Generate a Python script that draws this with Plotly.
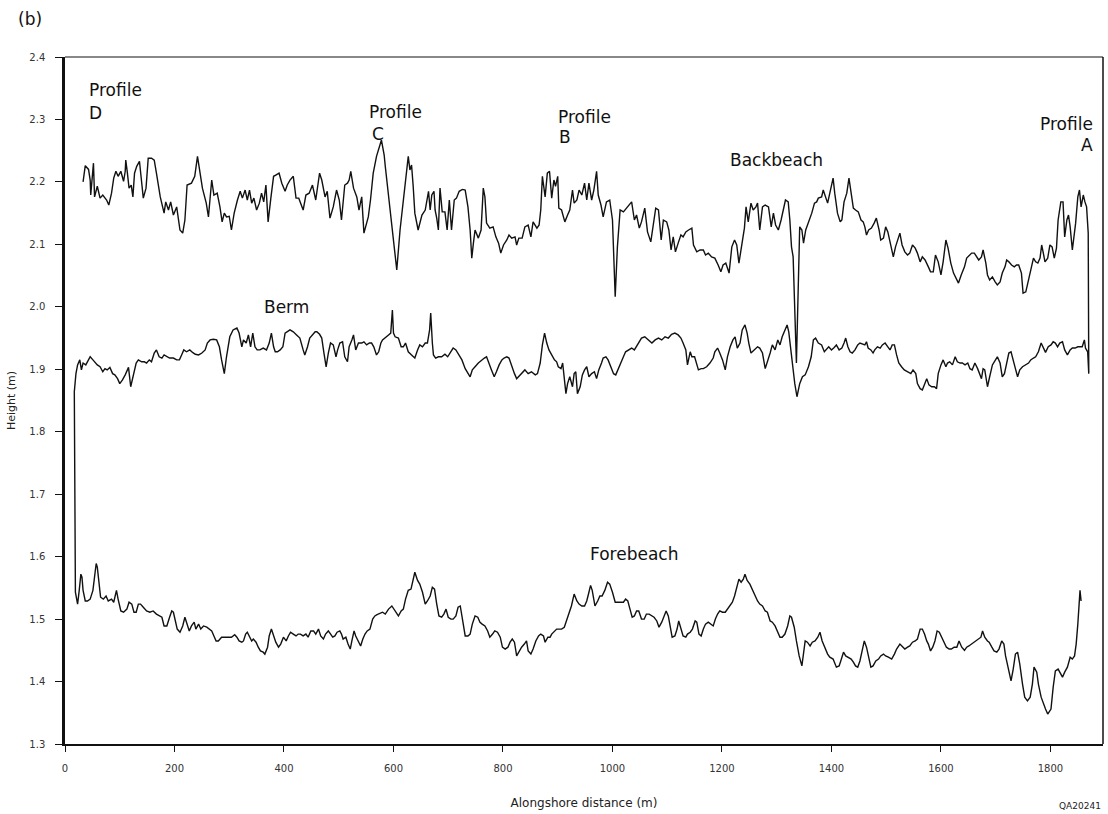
import plotly.graph_objects as go

# Surveyed beach elevations along the shore: (alongshore distance in m, height in m)
BACKBEACH = [
    (33, 2.200), (37, 2.226), (43, 2.220), (46, 2.203), (47, 2.179), (52, 2.230), (54, 2.176), (59, 2.193),
    (64, 2.174), (69, 2.179), (76, 2.171), (80, 2.163), (85, 2.182), (89, 2.206), (93, 2.217), (97, 2.209),
    (102, 2.217), (107, 2.201), (110, 2.217), (111, 2.235), (114, 2.214), (117, 2.190), (121, 2.195), (124, 2.176),
    (127, 2.214), (131, 2.225), (136, 2.233), (139, 2.203), (143, 2.174), (148, 2.190), (152, 2.238), (158, 2.238),
    (163, 2.235), (167, 2.214), (174, 2.176), (181, 2.150), (184, 2.168), (189, 2.155), (193, 2.168), (198, 2.147),
    (204, 2.160), (210, 2.123), (215, 2.118), (219, 2.139), (223, 2.195), (231, 2.198), (237, 2.209), (242, 2.241),
    (247, 2.209), (251, 2.190), (258, 2.166), (262, 2.144), (268, 2.203), (272, 2.179), (278, 2.182), (283, 2.160),
    (287, 2.136), (291, 2.150), (295, 2.144), (300, 2.145), (304, 2.123), (309, 2.150), (315, 2.171), (320, 2.185),
    (324, 2.174), (329, 2.187), (333, 2.171), (337, 2.187), (341, 2.166), (345, 2.174), (350, 2.155), (355, 2.166),
    (359, 2.182), (363, 2.168), (367, 2.195), (371, 2.136), (376, 2.174), (381, 2.209), (385, 2.211), (391, 2.214),
    (396, 2.198), (402, 2.185), (406, 2.195), (411, 2.203), (417, 2.209), (422, 2.174), (427, 2.174), (435, 2.155),
    (440, 2.179), (446, 2.182), (452, 2.195), (458, 2.171), (465, 2.214), (469, 2.203), (475, 2.176), (479, 2.185),
    (484, 2.142), (490, 2.160), (496, 2.187), (501, 2.171), (505, 2.139), (511, 2.195), (516, 2.198), (519, 2.203),
    (522, 2.217), (527, 2.190), (533, 2.176), (537, 2.155), (542, 2.176), (546, 2.118), (554, 2.144), (558, 2.171),
    (563, 2.214), (569, 2.241), (578, 2.267), (583, 2.243),
    (585, 2.225), (606, 2.059), (612, 2.123), (618, 2.171), (624, 2.211), (627, 2.241), (630, 2.219), (633, 2.227),
    (636, 2.193), (639, 2.150), (645, 2.123), (652, 2.147), (658, 2.155), (664, 2.185), (667, 2.155), (670, 2.179),
    (674, 2.185), (676, 2.155), (679, 2.142), (682, 2.123), (685, 2.190), (689, 2.152), (694, 2.152), (698, 2.123),
    (702, 2.171), (706, 2.123), (711, 2.171), (715, 2.174), (720, 2.185), (726, 2.188), (731, 2.187), (736, 2.160),
    (740, 2.123), (743, 2.078), (746, 2.102), (749, 2.123), (755, 2.110), (760, 2.123), (764, 2.190), (767, 2.176),
    (770, 2.134), (776, 2.126), (782, 2.128), (787, 2.112), (792, 2.102), (796, 2.086), (801, 2.099), (807, 2.107),
    (811, 2.115), (816, 2.110), (822, 2.112), (825, 2.099), (829, 2.110), (835, 2.110), (840, 2.128), (846, 2.131),
    (851, 2.112), (855, 2.136), (862, 2.126), (866, 2.131), (869, 2.155), (872, 2.209), (877, 2.176), (881, 2.214),
    (885, 2.217), (889, 2.174), (893, 2.203), (896, 2.193), (900, 2.209), (902, 2.158), (907, 2.155), (913, 2.136),
    (918, 2.147), (922, 2.155), (927, 2.187), (930, 2.166), (935, 2.171), (939, 2.187), (944, 2.179), (949, 2.198),
    (953, 2.171), (957, 2.198), (962, 2.171), (966, 2.187), (971, 2.217), (974, 2.179), (979, 2.163), (983, 2.144),
    (989, 2.168), (995, 2.171), (1000, 2.139), (1005, 2.016), (1009, 2.096), (1014, 2.155), (1020, 2.152), (1026, 2.158),
    (1035, 2.168), (1040, 2.139), (1044, 2.147), (1049, 2.126), (1053, 2.136), (1059, 2.158), (1064, 2.120), (1070, 2.104),
    (1075, 2.136), (1079, 2.158), (1084, 2.155), (1089, 2.107), (1093, 2.139), (1099, 2.136), (1103, 2.123), (1107, 2.091),
    (1111, 2.112), (1115, 2.088), (1120, 2.102), (1125, 2.115), (1129, 2.112), (1134, 2.120), (1139, 2.123), (1145, 2.126),
    (1148, 2.099), (1154, 2.088), (1160, 2.091), (1166, 2.091), (1170, 2.083), (1175, 2.086), (1181, 2.080), (1187, 2.078),
    (1193, 2.067), (1198, 2.056), (1202, 2.067), (1207, 2.070), (1213, 2.054), (1218, 2.096), (1223, 2.107), (1227, 2.099),
    (1231, 2.070), (1236, 2.102), (1241, 2.126), (1244, 2.160), (1248, 2.136), (1253, 2.166), (1257, 2.155), (1262, 2.160),
    (1265, 2.166), (1269, 2.123), (1274, 2.160),
    (1279, 2.163), (1285, 2.160), (1290, 2.128), (1294, 2.150), (1298, 2.131), (1303, 2.123), (1308, 2.139), (1312, 2.155),
    (1316, 2.171), (1321, 2.168), (1324, 2.139), (1327, 2.096), (1330, 2.080), (1336, 1.910), (1342, 2.128), (1346, 2.123),
    (1349, 2.102), (1353, 2.123), (1358, 2.134), (1364, 2.150), (1369, 2.166), (1373, 2.168), (1376, 2.174), (1382, 2.176),
    (1385, 2.187), (1388, 2.179), (1393, 2.166), (1397, 2.182), (1400, 2.193), (1403, 2.206), (1406, 2.182), (1411, 2.150),
    (1416, 2.136), (1419, 2.139), (1423, 2.168), (1428, 2.182), (1432, 2.206), (1436, 2.182), (1440, 2.158), (1444, 2.155),
    (1449, 2.152), (1454, 2.139), (1458, 2.136), (1461, 2.128), (1464, 2.115), (1468, 2.123), (1473, 2.126), (1478, 2.134),
    (1482, 2.142), (1487, 2.123), (1490, 2.107), (1495, 2.110), (1499, 2.128), (1503, 2.120), (1507, 2.102), (1513, 2.080),
    (1517, 2.096), (1522, 2.112), (1525, 2.118), (1529, 2.099), (1534, 2.088), (1539, 2.083), (1543, 2.086), (1548, 2.099),
    (1553, 2.094), (1557, 2.086), (1562, 2.072), (1566, 2.080), (1571, 2.075), (1577, 2.064), (1581, 2.056), (1586, 2.056),
    (1590, 2.083), (1595, 2.072), (1600, 2.051), (1604, 2.072), (1609, 2.107), (1613, 2.094), (1618, 2.070), (1623, 2.054),
    (1627, 2.046), (1632, 2.038), (1637, 2.051), (1643, 2.064), (1647, 2.078), (1652, 2.083), (1656, 2.086), (1661, 2.086),
    (1665, 2.080), (1669, 2.075), (1674, 2.080), (1677, 2.091), (1682, 2.070), (1685, 2.051), (1689, 2.043), (1694, 2.048),
    (1699, 2.040), (1703, 2.035), (1708, 2.040), (1712, 2.054), (1717, 2.064), (1720, 2.075), (1724, 2.072), (1729, 2.067),
    (1734, 2.064), (1738, 2.067), (1742, 2.067), (1747, 2.054), (1750, 2.022), (1755, 2.024), (1760, 2.043), (1764, 2.059),
    (1769, 2.078), (1773, 2.072), (1777, 2.070), (1781, 2.078), (1784, 2.099), (1787, 2.086), (1790, 2.072), (1795, 2.078),
    (1799, 2.099), (1803, 2.096), (1807, 2.078), (1811, 2.094), (1814, 2.139), (1819, 2.168), (1823, 2.168), (1826, 2.112),
    (1830, 2.139), (1833, 2.147), (1836, 2.128), (1840, 2.091), (1844, 2.118), (1846, 2.134), (1850, 2.176), (1853, 2.187),
    (1856, 2.160), (1860, 2.179), (1863, 2.168), (1866, 2.160), (1869, 2.118),
]

BERM = [
    (17, 1.864), (20, 1.893), (23, 1.907), (27, 1.915), (30, 1.899), (33, 1.910), (38, 1.907), (43, 1.915),
    (46, 1.920), (51, 1.915), (55, 1.912), (59, 1.907), (64, 1.904), (69, 1.896), (73, 1.901), (77, 1.899),
    (82, 1.903), (87, 1.893), (91, 1.891), (96, 1.885), (100, 1.877), (105, 1.883), (110, 1.891), (113, 1.896),
    (116, 1.903), (120, 1.872), (125, 1.888), (130, 1.910), (134, 1.915), (140, 1.912), (145, 1.912), (149, 1.910),
    (154, 1.915), (158, 1.912), (163, 1.926), (167, 1.931), (172, 1.920), (177, 1.918), (181, 1.923), (186, 1.920),
    (191, 1.918), (198, 1.918), (204, 1.915), (209, 1.915), (213, 1.923), (217, 1.931), (222, 1.928), (228, 1.931),
    (233, 1.927), (238, 1.924), (244, 1.923), (250, 1.926), (256, 1.931), (260, 1.942), (265, 1.947), (271, 1.948),
    (277, 1.947), (282, 1.936), (286, 1.915), (291, 1.893), (295, 1.920), (301, 1.952), (307, 1.963), (314, 1.966),
    (318, 1.958), (323, 1.936), (326, 1.947), (331, 1.942), (335, 1.955), (339, 1.936), (343, 1.958), (347, 1.936),
    (351, 1.931), (356, 1.931), (362, 1.934), (368, 1.931), (373, 1.942), (377, 1.958), (381, 1.936), (384, 1.928),
    (388, 1.928), (393, 1.931), (398, 1.936), (402, 1.958), (406, 1.960), (411, 1.963), (417, 1.960), (423, 1.955),
    (429, 1.950), (435, 1.931), (438, 1.923), (443, 1.936), (447, 1.950), (452, 1.955), (457, 1.960), (460, 1.960),
    (465, 1.956), (469, 1.950), (473, 1.926), (477, 1.904), (481, 1.926), (485, 1.942), (490, 1.939), (495, 1.920),
    (498, 1.931), (502, 1.942), (507, 1.944), (511, 1.920), (516, 1.912), (519, 1.936), (524, 1.947), (527, 1.955),
    (531, 1.931), (536, 1.942), (542, 1.942), (546, 1.944), (551, 1.939), (556, 1.942), (560, 1.942), (564, 1.936),
    (569, 1.923), (573, 1.928), (577, 1.942), (580, 1.947), (584, 1.950), (591, 1.955), (595, 1.958), (598, 1.995),
    (600, 1.958),
    (603, 1.952), (609, 1.950), (614, 1.936), (618, 1.936), (622, 1.942), (627, 1.928), (633, 1.923), (639, 1.918),
    (644, 1.931), (648, 1.939), (653, 1.936), (658, 1.942), (662, 1.942), (666, 1.963), (668, 1.990), (671, 1.942),
    (673, 1.923), (677, 1.918), (682, 1.920), (688, 1.920), (694, 1.924), (699, 1.920), (705, 1.928), (709, 1.934),
    (714, 1.931), (718, 1.926), (725, 1.915), (731, 1.901), (736, 1.893), (740, 1.888), (744, 1.899), (749, 1.904),
    (755, 1.910), (761, 1.915), (766, 1.918), (770, 1.920), (774, 1.910), (779, 1.899), (784, 1.888), (788, 1.896),
    (793, 1.907), (798, 1.915), (802, 1.918), (807, 1.920), (811, 1.918), (816, 1.904), (821, 1.893), (825, 1.885),
    (829, 1.888), (834, 1.893), (840, 1.899), (846, 1.893), (852, 1.896), (859, 1.891), (863, 1.893), (868, 1.910),
    (872, 1.939), (876, 1.958), (880, 1.942), (884, 1.931), (889, 1.923), (894, 1.915), (898, 1.912), (901, 1.904),
    (906, 1.901), (909, 1.910), (912, 1.891), (915, 1.861), (918, 1.877), (922, 1.888), (927, 1.872), (930, 1.893),
    (933, 1.896), (936, 1.861), (941, 1.872), (945, 1.891), (949, 1.899), (953, 1.904), (957, 1.888), (962, 1.893),
    (967, 1.896), (971, 1.885), (975, 1.899), (980, 1.910), (983, 1.918), (988, 1.920), (992, 1.915), (997, 1.904),
    (1002, 1.893), (1006, 1.891), (1011, 1.901), (1016, 1.912), (1020, 1.920), (1024, 1.928), (1029, 1.931), (1035, 1.934),
    (1040, 1.931), (1044, 1.936), (1048, 1.942), (1053, 1.950), (1059, 1.952), (1065, 1.947), (1072, 1.942), (1078, 1.947),
    (1084, 1.950), (1090, 1.947), (1096, 1.952), (1102, 1.950), (1108, 1.956), (1114, 1.958), (1120, 1.955), (1125, 1.950),
    (1129, 1.942), (1134, 1.931), (1137, 1.907), (1142, 1.928), (1145, 1.920), (1150, 1.920), (1154, 1.907), (1157, 1.899),
    (1162, 1.901), (1166, 1.901), (1172, 1.904), (1178, 1.910), (1184, 1.918), (1187, 1.928), (1192, 1.934), (1196, 1.926),
    (1201, 1.915), (1206, 1.899), (1210, 1.920), (1215, 1.936), (1220, 1.947), (1224, 1.952), (1228, 1.934), (1233, 1.942),
    (1237, 1.963), (1242, 1.971), (1246, 1.958), (1249, 1.942), (1253, 1.926), (1259, 1.931), (1265, 1.936), (1269, 1.934),
    (1274, 1.926),
    (1279, 1.901), (1283, 1.910), (1288, 1.926), (1292, 1.939), (1297, 1.931), (1302, 1.947), (1306, 1.939), (1310, 1.952),
    (1315, 1.963), (1319, 1.971), (1322, 1.960), (1326, 1.931), (1330, 1.899), (1333, 1.877), (1337, 1.856), (1339, 1.861),
    (1342, 1.877), (1347, 1.888), (1352, 1.891), (1358, 1.904), (1363, 1.920), (1367, 1.947), (1371, 1.950), (1376, 1.942),
    (1382, 1.939), (1387, 1.928), (1391, 1.931), (1395, 1.936), (1400, 1.931), (1405, 1.935), (1409, 1.939), (1414, 1.931),
    (1419, 1.934), (1423, 1.942), (1426, 1.950), (1430, 1.936), (1434, 1.928), (1438, 1.926), (1443, 1.931), (1448, 1.939),
    (1452, 1.942), (1456, 1.940), (1461, 1.939), (1464, 1.944), (1467, 1.934), (1472, 1.931), (1476, 1.926), (1479, 1.931),
    (1484, 1.936), (1489, 1.934), (1493, 1.939), (1498, 1.942), (1503, 1.936), (1507, 1.931), (1511, 1.939), (1515, 1.939),
    (1519, 1.923), (1523, 1.910), (1528, 1.904), (1533, 1.899), (1539, 1.896), (1545, 1.893), (1549, 1.899), (1554, 1.893),
    (1557, 1.877), (1562, 1.869), (1566, 1.867), (1570, 1.877), (1574, 1.885), (1578, 1.875), (1583, 1.872), (1588, 1.872),
    (1592, 1.869), (1595, 1.893), (1600, 1.907), (1604, 1.915), (1609, 1.904), (1612, 1.910), (1616, 1.912), (1621, 1.907),
    (1626, 1.920), (1630, 1.912), (1635, 1.910), (1639, 1.910), (1644, 1.907), (1649, 1.910), (1653, 1.901), (1657, 1.899),
    (1662, 1.910), (1667, 1.901), (1671, 1.893), (1674, 1.885), (1677, 1.901), (1680, 1.899), (1685, 1.872), (1689, 1.888),
    (1694, 1.907), (1699, 1.915), (1703, 1.920), (1708, 1.910), (1712, 1.888), (1716, 1.893), (1720, 1.910), (1724, 1.926),
    (1728, 1.928), (1732, 1.915), (1736, 1.901), (1740, 1.888), (1744, 1.899), (1749, 1.904), (1753, 1.907), (1760, 1.910),
    (1764, 1.915), (1769, 1.918), (1773, 1.920), (1778, 1.928), (1783, 1.942), (1787, 1.936), (1791, 1.927), (1796, 1.936),
    (1801, 1.939), (1805, 1.944), (1809, 1.942), (1813, 1.936), (1817, 1.942), (1822, 1.944), (1826, 1.931), (1831, 1.923),
    (1836, 1.931), (1840, 1.934), (1845, 1.934), (1850, 1.936), (1854, 1.936), (1858, 1.936), (1862, 1.947), (1864, 1.934),
    (1868, 1.928), (1870, 1.893),
]

FOREBEACH = [
    (19, 1.543), (23, 1.524), (26, 1.546), (29, 1.572), (31, 1.567), (33, 1.546), (37, 1.529), (41, 1.529),
    (46, 1.532), (51, 1.546), (55, 1.575), (57, 1.589), (59, 1.583), (63, 1.551), (65, 1.535), (70, 1.532),
    (75, 1.537), (79, 1.529), (85, 1.532), (89, 1.527), (94, 1.546), (97, 1.532), (102, 1.513), (107, 1.511),
    (113, 1.516), (117, 1.527), (122, 1.524), (126, 1.511), (130, 1.511), (134, 1.524), (138, 1.524), (143, 1.519),
    (149, 1.513), (155, 1.511), (161, 1.513), (167, 1.508), (172, 1.505), (177, 1.503), (181, 1.489), (186, 1.489),
    (191, 1.503), (195, 1.513), (198, 1.511), (201, 1.500), (205, 1.484), (210, 1.479), (215, 1.489), (219, 1.503),
    (223, 1.492), (227, 1.481), (231, 1.489), (236, 1.495), (239, 1.484), (244, 1.492), (248, 1.484), (253, 1.489),
    (259, 1.487), (264, 1.484), (268, 1.481), (272, 1.473), (276, 1.465), (280, 1.465), (286, 1.471), (292, 1.471),
    (298, 1.471), (304, 1.471), (310, 1.475), (314, 1.471), (318, 1.465), (323, 1.463), (326, 1.465), (330, 1.476),
    (333, 1.479), (338, 1.471), (341, 1.465), (344, 1.468), (349, 1.463), (353, 1.455), (357, 1.449), (362, 1.447),
    (365, 1.444), (370, 1.455), (373, 1.473), (377, 1.484), (382, 1.471), (385, 1.463), (390, 1.455), (394, 1.460),
    (399, 1.471), (404, 1.465), (408, 1.473), (412, 1.479), (417, 1.476), (422, 1.473), (426, 1.476), (430, 1.476),
    (435, 1.473), (440, 1.476), (444, 1.471), (449, 1.481), (454, 1.481), (458, 1.476), (463, 1.484), (467, 1.473),
    (472, 1.468), (476, 1.476), (481, 1.481), (485, 1.476), (489, 1.471), (493, 1.473), (497, 1.479), (502, 1.481),
    (505, 1.476), (508, 1.468), (513, 1.471), (517, 1.460), (521, 1.452), (524, 1.465), (528, 1.481), (531, 1.473),
    (536, 1.463), (540, 1.457), (544, 1.468), (548, 1.476), (552, 1.481), (557, 1.484), (562, 1.500), (566, 1.505),
    (570, 1.507), (575, 1.509), (580, 1.511),
    (585, 1.508), (591, 1.516), (597, 1.521), (603, 1.513), (609, 1.505), (614, 1.513), (618, 1.516), (622, 1.532),
    (627, 1.546), (632, 1.548), (636, 1.562), (639, 1.575), (644, 1.562), (648, 1.556), (653, 1.543), (658, 1.524),
    (662, 1.529), (667, 1.537), (671, 1.551), (675, 1.548), (679, 1.524), (683, 1.505), (688, 1.503), (692, 1.508),
    (696, 1.516), (700, 1.503), (705, 1.500), (709, 1.500), (714, 1.505), (718, 1.519), (722, 1.521), (726, 1.497),
    (731, 1.473), (736, 1.473), (740, 1.476), (744, 1.492), (749, 1.505), (754, 1.503), (758, 1.495), (762, 1.492),
    (767, 1.489), (772, 1.481), (776, 1.471), (781, 1.476), (785, 1.481), (790, 1.479), (795, 1.471), (799, 1.455),
    (804, 1.452), (809, 1.455), (813, 1.463), (817, 1.468), (821, 1.463), (825, 1.441), (829, 1.447), (834, 1.455),
    (839, 1.460), (843, 1.465), (846, 1.449), (851, 1.444), (855, 1.452), (860, 1.465), (865, 1.473), (869, 1.476),
    (874, 1.473), (877, 1.463), (882, 1.471), (886, 1.471), (889, 1.476), (894, 1.481), (898, 1.484), (902, 1.484),
    (907, 1.484), (912, 1.487), (916, 1.497), (921, 1.511), (925, 1.521), (930, 1.540), (935, 1.529), (939, 1.524),
    (944, 1.521), (949, 1.521), (953, 1.529), (957, 1.543), (960, 1.554), (963, 1.546), (968, 1.521), (973, 1.529),
    (977, 1.537), (981, 1.537), (986, 1.546), (991, 1.559), (995, 1.556), (1000, 1.543), (1005, 1.527), (1009, 1.527),
    (1014, 1.527), (1020, 1.527), (1024, 1.532), (1028, 1.529), (1032, 1.516), (1036, 1.503), (1040, 1.505), (1044, 1.513),
    (1048, 1.513), (1053, 1.500), (1058, 1.500), (1062, 1.508), (1067, 1.508), (1072, 1.505), (1076, 1.503), (1081, 1.497),
    (1085, 1.487), (1090, 1.495), (1095, 1.505), (1098, 1.513), (1102, 1.505), (1105, 1.492), (1109, 1.471), (1114, 1.473),
    (1118, 1.484), (1121, 1.497), (1125, 1.484), (1129, 1.473), (1134, 1.471), (1137, 1.476), (1142, 1.479), (1146, 1.484),
    (1151, 1.497), (1154, 1.495), (1158, 1.476), (1162, 1.473), (1166, 1.484), (1170, 1.492), (1175, 1.495), (1180, 1.492),
    (1184, 1.489), (1188, 1.500), (1192, 1.508), (1196, 1.513), (1201, 1.511), (1206, 1.511), (1210, 1.516), (1215, 1.521),
    (1219, 1.527), (1223, 1.537), (1227, 1.551), (1231, 1.564), (1235, 1.559), (1239, 1.564), (1242, 1.572), (1246, 1.562),
    (1251, 1.556), (1255, 1.548), (1260, 1.540), (1265, 1.529), (1269, 1.524), (1274, 1.521), (1279, 1.513),
    (1283, 1.511), (1288, 1.497), (1292, 1.495), (1297, 1.489), (1302, 1.479), (1306, 1.471), (1310, 1.471), (1315, 1.476),
    (1320, 1.489), (1324, 1.505), (1327, 1.503), (1332, 1.487), (1336, 1.465), (1341, 1.441), (1346, 1.425), (1349, 1.449),
    (1352, 1.465), (1356, 1.463), (1361, 1.457), (1365, 1.463), (1370, 1.465), (1375, 1.471), (1379, 1.479), (1383, 1.465),
    (1388, 1.455), (1393, 1.444), (1397, 1.439), (1403, 1.436), (1409, 1.423), (1414, 1.425), (1417, 1.433), (1422, 1.447),
    (1426, 1.441), (1431, 1.439), (1436, 1.436), (1440, 1.431), (1444, 1.425), (1448, 1.423), (1452, 1.433), (1456, 1.449),
    (1460, 1.465), (1464, 1.455), (1468, 1.441), (1472, 1.423), (1476, 1.425), (1481, 1.433), (1486, 1.436), (1490, 1.441),
    (1495, 1.444), (1499, 1.441), (1504, 1.439), (1510, 1.436), (1515, 1.444), (1519, 1.452), (1525, 1.460), (1529, 1.457),
    (1534, 1.452), (1539, 1.455), (1543, 1.457), (1548, 1.463), (1553, 1.465), (1557, 1.468), (1562, 1.484), (1566, 1.484),
    (1570, 1.476), (1574, 1.465), (1577, 1.460), (1581, 1.449), (1585, 1.455), (1589, 1.465), (1593, 1.481), (1597, 1.479),
    (1601, 1.471), (1605, 1.465), (1610, 1.455), (1615, 1.452), (1619, 1.452), (1624, 1.455), (1629, 1.455), (1633, 1.465),
    (1638, 1.455), (1643, 1.450), (1647, 1.455), (1651, 1.457), (1656, 1.460), (1661, 1.463), (1665, 1.465), (1668, 1.468),
    (1673, 1.471), (1676, 1.481), (1680, 1.471), (1685, 1.465), (1688, 1.463), (1693, 1.455), (1697, 1.449), (1702, 1.447),
    (1706, 1.452), (1711, 1.465), (1715, 1.460), (1718, 1.441), (1723, 1.420), (1728, 1.401), (1732, 1.420), (1736, 1.444),
    (1740, 1.447), (1744, 1.428), (1749, 1.396), (1753, 1.375), (1758, 1.369), (1763, 1.375), (1767, 1.396), (1770, 1.423),
    (1775, 1.415), (1778, 1.396), (1783, 1.375), (1787, 1.364), (1791, 1.356), (1795, 1.348), (1801, 1.356), (1805, 1.391),
    (1809, 1.417), (1814, 1.420), (1819, 1.412), (1822, 1.407), (1826, 1.415), (1831, 1.423), (1836, 1.439), (1840, 1.436),
    (1844, 1.441), (1847, 1.460), (1850, 1.492), (1852, 1.524), (1854, 1.546), (1856, 1.529),
]

X_TICKS = [0, 200, 400, 600, 800, 1000, 1200, 1400, 1600, 1800]
Y_TICKS = [1.3, 1.4, 1.5, 1.6, 1.7, 1.8, 1.9, 2.0, 2.1, 2.2, 2.3, 2.4]
Y_TICK_TEXT = ["1.3", "1.4", "1.5", "1.6", "1.7", "1.8", "1.9", "2.0", "2.1", "2.2", "2.3", "2.4"]

# The survey pen traces one continuous path: backbeach eastward,
# berm back westward, then forebeach eastward again.
path = BACKBEACH + BERM[::-1] + FOREBEACH
xs = [p[0] for p in path]
ys = [p[1] for p in path]

FONT = "DejaVu Sans"
INK = "#111111"

fig = go.Figure()
fig.add_trace(go.Scatter(
    x=xs, y=ys, mode="lines",
    line=dict(color=INK, width=1.4),
    hoverinfo="skip", showlegend=False,
))

# Profile and zone labels placed in data coordinates
labels = [
    ("Profile", 40, 2.347, "left"), ("D", 40, 2.311, "left"),
    ("Profile", 552, 2.312, "left"), ("C", 557, 2.277, "left"),
    ("Profile", 897, 2.304, "left"), ("B", 898, 2.272, "left"),
    ("Backbeach", 1211, 2.235, "left"),
    ("Profile", 1881, 2.292, "right"), ("A", 1881, 2.259, "right"),
    ("Berm", 360, 2.0, "left"),
    ("Forebeach", 955, 1.605, "left"),
]
for text, x, y, anchor in labels:
    fig.add_annotation(x=x, y=y, xref="x", yref="y", text=text, showarrow=False,
                       xanchor=anchor, yanchor="middle",
                       font=dict(family=FONT, size=17, color=INK))

# Panel letter and figure code
fig.add_annotation(x=-0.047, y=1.056, xref="paper", yref="paper", text="(b)", showarrow=False,
                   xanchor="left", yanchor="middle",
                   font=dict(family=FONT, size=17, color=INK))
fig.add_annotation(x=1.0, y=-0.09, xref="paper", yref="paper", text="QA20241", showarrow=False,
                   xanchor="right", yanchor="middle",
                   font=dict(family=FONT, size=9, color="#222222"))

fig.update_layout(
    width=1108, height=814,
    margin=dict(l=65, r=5, t=57, b=70),
    paper_bgcolor="white", plot_bgcolor="white",
    showlegend=False,
    xaxis=dict(
        range=[0, 1896], tickvals=X_TICKS, ticks="outside", ticklen=6, tickwidth=1,
        tickcolor=INK, showline=True, linewidth=2, linecolor=INK,
        showgrid=False, zeroline=False,
        tickfont=dict(family=FONT, size=10, color="#333333"),
        ticklabelstandoff=8,
        title=dict(text="Alongshore distance (m)", font=dict(family=FONT, size=12, color="#222222"),
                   standoff=26),
    ),
    yaxis=dict(
        range=[1.3, 2.4], tickvals=Y_TICKS, ticktext=Y_TICK_TEXT, ticks="outside", ticklen=7,
        tickwidth=1, tickcolor=INK, showline=True, linewidth=2.5, linecolor=INK,
        showgrid=False, zeroline=False,
        tickfont=dict(family=FONT, size=10, color="#333333"),
        ticklabelstandoff=8,
        title=dict(text="Height (m)", font=dict(family=FONT, size=11, color="#222222"), standoff=12),
    ),
    shapes=[
        dict(type="line", xref="paper", yref="paper", x0=0, x1=1, y0=1, y1=1,
             line=dict(color=INK, width=1)),
        dict(type="line", xref="paper", yref="paper", x0=1, x1=1, y0=0, y1=1,
             line=dict(color=INK, width=1.5)),
    ],
)

fig.write_html("out.html")
